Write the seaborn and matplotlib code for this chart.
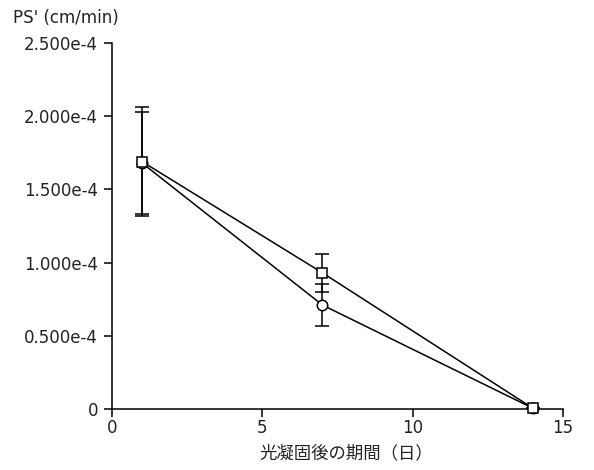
import matplotlib
matplotlib.use("Agg")
import matplotlib.pyplot as plt
import seaborn as sns
import pandas as pd
from matplotlib.ticker import FixedLocator

days = [1, 7, 14]
square_vals = [1.69e-4, 0.93e-4, 0.005e-4]
square_sd = [0.37e-4, 0.13e-4, 0.0]
circle_vals = [1.68e-4, 0.71e-4, 0.005e-4]
circle_sd = [0.35e-4, 0.145e-4, 0.0]
y_ticks = [0, 0.5e-4, 1.0e-4, 1.5e-4, 2.0e-4, 2.5e-4]
y_tick_labels = ["0", "0.500e-4", "1.000e-4", "1.500e-4", "2.000e-4", "2.500e-4"]
x_ticks = [0, 5, 10, 15]
x_label = "光凝固後の期間（日）"
y_label = "PS' (cm/min)"

sns.set_style("white")
plt.rcParams['font.family'] = ['DejaVu Sans']

# circle first so the square series is drawn on top
df = pd.DataFrame({
    "day": days + days,
    "value": circle_vals + square_vals,
    "group": ["circle"] * 3 + ["square"] * 3,
})

fig = plt.figure(figsize=(5.94, 4.70), dpi=100)
ax = fig.add_axes([112/594, 1-409/470, (563-112)/594, (409-43)/470])

for vals, sd in [(circle_vals, circle_sd), (square_vals, square_sd)]:
    ax.errorbar(days, vals, yerr=sd, fmt='none', ecolor='black', elinewidth=1.1,
                capsize=5, capthick=1.1, zorder=2)

sns.lineplot(data=df, x="day", y="value", style="group",
             markers={"square": "s", "circle": "o"}, dashes=False,
             color="black", linewidth=1.1, markersize=7.5,
             markerfacecolor="white", markeredgecolor="black", markeredgewidth=1.1,
             legend=False, ax=ax, zorder=3, clip_on=False)

ax.set_xlim(0, 15)
ax.set_ylim(0, 2.5e-4)
ax.xaxis.set_major_locator(FixedLocator(x_ticks))
ax.yaxis.set_major_locator(FixedLocator(y_ticks))
ax.set_yticklabels(y_tick_labels, fontfamily='DejaVu Sans')
ax.set_xticklabels([str(t) for t in x_ticks], fontfamily='DejaVu Sans')
ax.tick_params(axis='both', direction='out', length=6, width=1.1, color='black',
               labelsize=12, labelcolor='#222222', left=True, bottom=True)
ax.tick_params(axis='x', pad=1.5)
ax.tick_params(axis='y', pad=4)
for s in ["top", "right"]:
    ax.spines[s].set_visible(False)
for s in ["left", "bottom"]:
    ax.spines[s].set_color("black")
    ax.spines[s].set_linewidth(1.1)
ax.set_xlabel("")
ax.set_ylabel("")

fig.text(346/594, 1-453/470, x_label, ha="center", va="center", fontsize=12.5,
         family=['Noto Sans CJK JP', 'DejaVu Sans'], color='#222222')
fig.text(13/594, 1-18/470, y_label, ha="left", va="center", fontsize=12,
         family='DejaVu Sans', color='#222222')

fig.savefig("out.png", dpi=100)
